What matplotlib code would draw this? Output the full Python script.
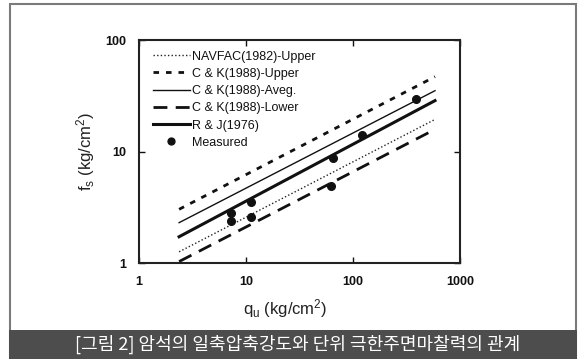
import matplotlib
matplotlib.use("Agg")
import matplotlib.pyplot as plt
from matplotlib.patches import Rectangle

W, H = 578, 359

# Data
line_x = [2.37, 584]
navfac_upper = [1.26, 19.4]
ck_upper = [3.03, 46.9]
ck_aveg = [2.30, 35.1]
ck_lower = [1.03, 15.8]
rj_1976 = [1.72, 28.6]

meas_qu = [7.2, 7.2, 11.1, 11.1, 62, 65.5, 121, 388]
meas_fs = [2.79, 2.40, 3.50, 2.60, 4.91, 8.80, 14.06, 29.4]

labels = ["NAVFAC(1982)-Upper", "C & K(1988)-Upper", "C & K(1988)-Aveg.",
          "C & K(1988)-Lower", "R & J(1976)", "Measured"]
xticks = [1, 10, 100, 1000]
yticks = [1, 10, 100]

plt.rcParams['font.family'] = ['Liberation Sans', 'DejaVu Sans']
plt.rcParams['mathtext.fontset'] = 'custom'
plt.rcParams['mathtext.rm'] = 'Liberation Sans'
plt.rcParams['mathtext.it'] = 'Liberation Sans'

fig = plt.figure(figsize=(W / 100, H / 100), dpi=100)
fig.patch.set_facecolor('white')

# outer border
fig.patches.append(Rectangle((9.5 / W, 0), 566 / W, 355.5 / H, transform=fig.transFigure,
                             facecolor='none', edgecolor='#7a7a7a', lw=1.5, zorder=0))
# caption bar
fig.patches.append(Rectangle((9 / W, 0), 568 / W, 29.5 / H, transform=fig.transFigure,
                             facecolor='#4d4d4d', edgecolor='none', zorder=1))
fig.text(297.5 / W, 14.5 / H, "[그림 2] 암석의 일축압축강도와 단위 극한주면마찰력의 관계",
         color='white', fontsize=13, ha='center', va='center',
         family=['Noto Sans CJK KR', 'DejaVu Sans'])

ax = fig.add_axes([139 / W, 1 - 263 / H, 321 / W, 223 / H])
ax.set_xscale('log')
ax.set_yscale('log')
ax.set_xlim(1, 1000)
ax.set_ylim(1, 100)

ax.plot(line_x, navfac_upper, color='#222', lw=1.0, ls=(0, (1, 1.6)), label=labels[0])
ax.plot(line_x, ck_upper, color='#111', lw=2.0, ls=(0, (2, 2.5)), label=labels[1])
ax.plot(line_x, ck_aveg, color='#111', lw=1.0, ls='-', label=labels[2])
ax.plot(line_x, ck_lower, color='#111', lw=2.0, ls=(0, (5, 3)), label=labels[3])
ax.plot(line_x, rj_1976, color='#111', lw=2.2, ls='-', label=labels[4])
ax.plot(meas_qu, meas_fs, 'o', color='#111', ms=5.5, ls='none', label=labels[5])

ax.set_xticks(xticks)
ax.set_xticklabels([str(v) for v in xticks])
ax.set_yticks(yticks)
ax.set_yticklabels([str(v) for v in yticks])
ax.minorticks_off()
ax.tick_params(direction='in', length=4, width=1, top=True, right=True,
               labelsize=9, pad=9.5, colors='#111')
for lab in ax.get_xticklabels() + ax.get_yticklabels():
    lab.set_fontweight('bold')
for s in ax.spines.values():
    s.set_linewidth(1.5)
    s.set_color('#222')

ax.set_xlabel(r"q$_\mathregular{u}$ (kg/cm$^\mathregular{2}$)", fontsize=12, color='#222')
ax.set_ylabel(r"f$_\mathregular{s}$ (kg/cm$^\mathregular{2}$)", fontsize=12, color='#222')
ax.xaxis.set_label_coords(0.455, -(297.5 - 263) / 223)
ax.yaxis.set_label_coords(-(139 - 97) / 321, 0.5)

leg = ax.legend(loc='upper left', frameon=False, fontsize=9, handlelength=3.0,
                handletextpad=0.15, labelspacing=0.42, borderaxespad=0.0, borderpad=0.0,
                markerscale=0.9,
                bbox_to_anchor=((152.7 - 139) / 321, 1 - (50.5 - 40) / 223))
for t in leg.get_texts():
    t.set_color('#111')

fig.savefig('out.png', dpi=100, facecolor='white')
